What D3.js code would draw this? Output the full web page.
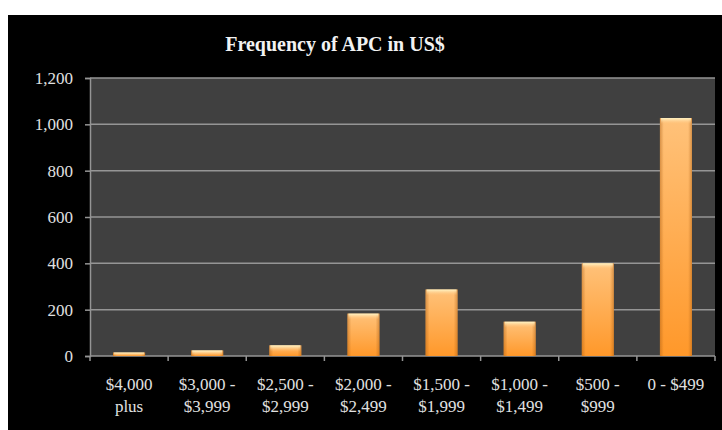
<!DOCTYPE html>
<html>
<head>
<meta charset="utf-8">
<script src="https://cdn.jsdelivr.net/npm/d3@7"></script>
<style>
  body { margin: 0; background: #fff; }
  svg text { font-family: "Liberation Serif", "DejaVu Serif", serif; }
</style>
</head>
<body>
<svg id="chart" width="722" height="430"></svg>
<script>
// data
var categories = ["$4,000 plus", "$3,000 - $3,999", "$2,500 - $2,999", "$2,000 - $2,499",
  "$1,500 - $1,999", "$1,000 - $1,499", "$500 - $999", "0 - $499"];
var labelLines = [["$4,000", "plus"], ["$3,000 -", "$3,999"], ["$2,500 -", "$2,999"], ["$2,000 -", "$2,499"],
  ["$1,500 -", "$1,999"], ["$1,000 -", "$1,499"], ["$500 -", "$999"], ["0 - $499"]];
var counts = [15, 24, 46, 183, 287, 148, 400, 1027];
var yTicks = [0, 200, 400, 600, 800, 1000, 1200];

const width = 722, height = 430;
const plot = { left: 90, right: 715, top: 78, bottom: 356 };

const svg = d3.select('svg#chart');

// black chart frame, white border top / left
svg.append('rect').attr('x', 8).attr('y', 15).attr('width', width - 8).attr('height', height - 15)
  .attr('fill', '#000');

const x = d3.scaleBand().domain(categories).range([plot.left, plot.right]).paddingInner(0.59).paddingOuter(0.295);
const y = d3.scaleLinear().domain([0, 1200]).range([plot.bottom, plot.top]);

// plot background
svg.append('rect').attr('x', plot.left).attr('y', plot.top)
  .attr('width', plot.right - plot.left).attr('height', plot.bottom - plot.top)
  .attr('fill', '#404040');

// gradients for the bars
const defs = svg.append('defs');
const gv = defs.append('linearGradient').attr('id', 'barV').attr('x1', 0).attr('y1', 0).attr('x2', 0).attr('y2', 1);
gv.append('stop').attr('offset', '0%').attr('stop-color', '#ffc27a');
gv.append('stop').attr('offset', '100%').attr('stop-color', '#ff982a');
const gh = defs.append('linearGradient').attr('id', 'barH').attr('x1', 0).attr('y1', 0).attr('x2', 1).attr('y2', 0);
gh.append('stop').attr('offset', '0%').attr('stop-color', '#a85a10').attr('stop-opacity', 0.45);
gh.append('stop').attr('offset', '12%').attr('stop-color', '#a85a10').attr('stop-opacity', 0);
gh.append('stop').attr('offset', '88%').attr('stop-color', '#a85a10').attr('stop-opacity', 0);
gh.append('stop').attr('offset', '100%').attr('stop-color', '#a85a10').attr('stop-opacity', 0.45);
const gt = defs.append('linearGradient').attr('id', 'barTop').attr('x1', 0).attr('y1', 0).attr('x2', 0).attr('y2', 1);
gt.append('stop').attr('offset', '0%').attr('stop-color', '#fff6c8');
gt.append('stop').attr('offset', '100%').attr('stop-color', '#ffc47e').attr('stop-opacity', 0);

// gridlines
svg.append('g').selectAll('line').data(yTicks.filter(d => d > 0)).join('line')
  .attr('x1', plot.left).attr('x2', plot.right)
  .attr('y1', d => y(d)).attr('y2', d => y(d))
  .attr('stroke', '#959595').attr('stroke-width', 1.5);

// y axis
const yAxis = svg.append('g').attr('transform', `translate(${plot.left},0)`)
  .call(d3.axisLeft(y).tickValues(yTicks).tickSize(5).tickPadding(12).tickFormat(d3.format(',')));
yAxis.select('.domain').attr('stroke', '#959595').attr('stroke-width', 1.5);
yAxis.selectAll('.tick line').attr('stroke', '#959595').attr('stroke-width', 1.5);
yAxis.selectAll('.tick text').attr('fill', '#e0e0e0').attr('font-size', 17)
  .attr('font-family', '"Liberation Serif", serif');

// x axis line + ticks at band edges
const xEdges = categories.map(c => x(c) - x.step() * x.paddingInner() / 2).concat([plot.right]);
svg.append('line').attr('x1', plot.left).attr('x2', plot.right)
  .attr('y1', plot.bottom).attr('y2', plot.bottom)
  .attr('stroke', '#959595').attr('stroke-width', 1.5);
svg.append('g').selectAll('line').data(xEdges).join('line')
  .attr('x1', d => d).attr('x2', d => d)
  .attr('y1', plot.bottom).attr('y2', plot.bottom + 5)
  .attr('stroke', '#959595').attr('stroke-width', 1.5);

// x labels
const xl = svg.append('g').selectAll('text').data(categories).join('text')
  .attr('text-anchor', 'middle').attr('fill', '#e0e0e0').attr('font-size', 17)
  .attr('transform', d => `translate(${x(d) + x.bandwidth() / 2},${plot.bottom + 34})`);
xl.selectAll('tspan').data((d, i) => labelLines[i]).join('tspan')
  .attr('x', 0).attr('dy', (d, i) => i === 0 ? 0 : 22).text(d => d);

// bars
const bars = svg.append('g').selectAll('g').data(categories).join('g');
bars.append('rect')
  .attr('x', d => x(d)).attr('width', x.bandwidth())
  .attr('y', (d, i) => y(counts[i])).attr('height', (d, i) => y(0) - y(counts[i]))
  .attr('fill', 'url(#barV)');
bars.append('rect')
  .attr('x', d => x(d)).attr('width', x.bandwidth())
  .attr('y', (d, i) => y(counts[i])).attr('height', (d, i) => y(0) - y(counts[i]))
  .attr('fill', 'url(#barH)');
bars.append('rect')
  .attr('x', d => x(d) + 1).attr('width', x.bandwidth() - 2)
  .attr('y', (d, i) => y(counts[i])).attr('height', (d, i) => Math.min(6, y(0) - y(counts[i])))
  .attr('fill', 'url(#barTop)');

// title
svg.append('text').attr('x', 335).attr('y', 51).attr('text-anchor', 'middle')
  .attr('fill', '#f2f2f2').attr('font-size', 20).attr('font-weight', 'bold')
  .text('Frequency of APC in US$');
</script>
</body>
</html>
